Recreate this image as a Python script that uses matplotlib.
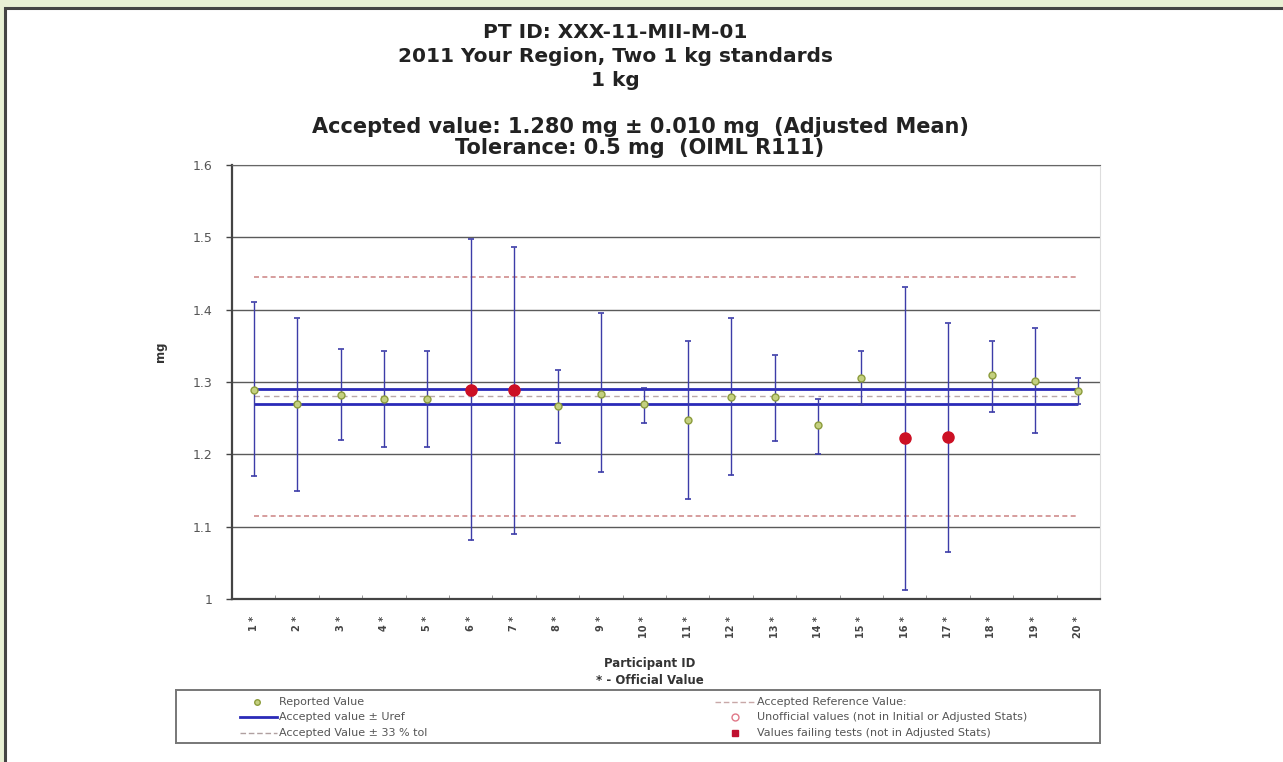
import matplotlib
matplotlib.use("Agg")
import matplotlib.pyplot as plt
from matplotlib.patches import Rectangle
import numpy as np

# ---------------- data ----------------
participants = list(range(1, 21))
tick_labels = [f"{p} *" for p in participants]
values = [1.289, 1.270, 1.282, 1.277, 1.277, 1.289, 1.289, 1.267, 1.283, 1.269,
          1.248, 1.279, 1.279, 1.240, 1.305, 1.223, 1.224, 1.309, 1.302, 1.288]
upper = [1.410, 1.389, 1.345, 1.343, 1.343, 1.498, 1.487, 1.317, 1.395, 1.292,
         1.357, 1.388, 1.338, 1.277, 1.343, 1.431, 1.382, 1.357, 1.375, 1.306]
lower = [1.170, 1.150, 1.220, 1.210, 1.210, 1.081, 1.090, 1.215, 1.175, 1.243,
         1.138, 1.171, 1.219, 1.201, 1.268, 1.013, 1.065, 1.259, 1.230, 1.270]
failing = [6, 7, 16, 17]
accepted = 1.280
u_ref = 0.010
tolerance = 0.5
tol_fraction = 0.33
yticks = [1.0, 1.1, 1.2, 1.3, 1.4, 1.5, 1.6]
ytick_labels = ["1", "1.1", "1.2", "1.3", "1.4", "1.5", "1.6"]

title_lines = ["PT ID: XXX-11-MII-M-01",
               "2011 Your Region, Two 1 kg standards",
               "1 kg"]
subtitle_lines = ["Accepted value: 1.280 mg \u00b1 0.010 mg  (Adjusted Mean)",
                  "Tolerance: 0.5 mg  (OIML R111)"]
legend_labels = ["Reported Value", "Accepted value \u00b1 Uref",
                 "Accepted Value \u00b1 33 % tol", "Accepted Reference Value:",
                 "Unofficial values (not in Initial or Adjusted Stats)",
                 "Values failing tests (not in Adjusted Stats)"]

# ---------------- figure ----------------
W, H = 1283, 762
fig = plt.figure(figsize=(W / 100, H / 100), dpi=100)
fig.patch.set_facecolor("#e8f0d4")

def fx(px):
    return px / W

def fy(py):
    return 1 - py / H

bg = Rectangle((fx(5), -0.01), 1.0, fy(8) + 0.01, transform=fig.transFigure,
               facecolor="white", edgecolor="#444444", lw=2.2, zorder=-10)
fig.add_artist(bg)

ax = fig.add_axes([fx(232), fy(599), fx(1100) - fx(232), fy(165) - fy(599)])
ax.set_facecolor("white")

vals = np.array(values)
up = np.array(upper)
lo = np.array(lower)
x = np.array(participants)

ax.set_xlim(0.5, 20.5)
ax.set_ylim(1.0, 1.6)

# gridlines
for yv in yticks[1:]:
    ax.axhline(yv, color="#5a5a5a", lw=1.0, zorder=1)

# tolerance lines
tol_half = tolerance * tol_fraction
ax.hlines([accepted + tol_half, accepted - tol_half], x[0], x[-1],
          colors="#d08c8c", linestyles=(0, (3, 2)), lw=1.2, zorder=2)
# accepted reference value
ax.hlines(accepted, x[0], x[-1], colors="#b8a8a8", linestyles=(0, (4, 3)), lw=1.0, zorder=2)
# accepted +/- uref
ax.hlines([accepted + u_ref, accepted - u_ref], x[0], x[-1],
          colors="#2a2ab8", lw=2.0, zorder=3)

# error bars
ax.errorbar(x, vals, yerr=[vals - lo, up - vals], fmt="none", ecolor="#3c3ca8",
            elinewidth=1.0, capsize=2.5, capthick=1.2, zorder=4)

ok = np.array([p not in failing for p in participants])
ax.plot(x[ok], vals[ok], linestyle="none", marker="o", markersize=5,
        markerfacecolor="#c4d080", markeredgecolor="#8c9c3c", zorder=5)
ax.plot(x[~ok], vals[~ok], linestyle="none", marker="o", markersize=8,
        markerfacecolor="#cc1024", markeredgecolor="#cc1024", zorder=5)

# axes styling
ax.set_yticks(yticks)
ax.set_yticklabels(ytick_labels)
ax.tick_params(axis="y", length=4, width=1, color="#444444", labelsize=9,
               labelcolor="#555555", pad=10)
ax.set_xticks(x)
ax.set_xticklabels(tick_labels, rotation=90, fontsize=7, fontweight="bold",
                   color="#444444")
ax.tick_params(axis="x", which="major", length=0, pad=12)
ax.set_xticks(np.arange(1.5, 20.5, 1.0), minor=True)
ax.tick_params(axis="x", which="minor", length=3, direction="in", color="#888888")
for s in ["left", "bottom"]:
    ax.spines[s].set_color("#444444")
    ax.spines[s].set_linewidth(1.6)
ax.spines["top"].set_color("#666666")
ax.spines["right"].set_color("#dddddd")

# titles
tfont = dict(fontsize=14.5, fontweight="bold", color="#222222", ha="center", va="center")
for txt, py in zip(title_lines, [32, 57, 80]):
    fig.text(fx(615), fy(py), txt, **tfont)
sfont = dict(fontsize=15, fontweight="bold", color="#222222", ha="center", va="center")
for txt, py in zip(subtitle_lines, [127, 148]):
    fig.text(fx(640), fy(py), txt, **sfont)

# axis labels
fig.text(fx(160), fy(352), "mg", rotation=90, fontsize=8.5, fontweight="bold",
         color="#333333", ha="center", va="center")
fig.text(fx(650), fy(663), "Participant ID", fontsize=8.5, fontweight="bold",
         color="#333333", ha="center", va="center")
fig.text(fx(650), fy(680), "* - Official Value", fontsize=8.5, fontweight="bold",
         color="#333333", ha="center", va="center")

# legend (manual box)
lax = fig.add_axes([fx(176), fy(743), fx(1100) - fx(176), fy(690) - fy(743)])
lax.set_xlim(176, 1100)
lax.set_ylim(743, 690)
lax.set_xticks([])
lax.set_yticks([])
for s in lax.spines.values():
    s.set_color("#777777")
    s.set_linewidth(1.4)
rows = [702, 717, 733]
lfont = dict(fontsize=8, color="#555555", va="center", ha="left")
# left column
lax.plot([257], [rows[0]], marker="o", markersize=4, markerfacecolor="#c4d080",
         markeredgecolor="#8c9c3c", linestyle="none")
lax.plot([240, 277], [rows[1]] * 2, color="#2a2ab8", lw=2)
lax.plot([240, 277], [rows[2]] * 2, color="#b0a0a0", lw=1, linestyle=(0, (4, 2)))
for lab, ry in zip(legend_labels[:3], rows):
    lax.text(279, ry, lab, **lfont)
# right column
lax.plot([715, 755], [rows[0]] * 2, color="#c8a8a8", lw=1, linestyle=(0, (4, 2)))
lax.plot([735], [rows[1]], marker="o", markersize=5, markerfacecolor="none",
         markeredgecolor="#e07888", linestyle="none")
lax.plot([735], [rows[2]], marker="s", markersize=4, color="#c01030", linestyle="none")
for lab, ry in zip(legend_labels[3:], rows):
    lax.text(757, ry, lab, **lfont)

fig.savefig("out.png", dpi=100, facecolor=fig.get_facecolor())
